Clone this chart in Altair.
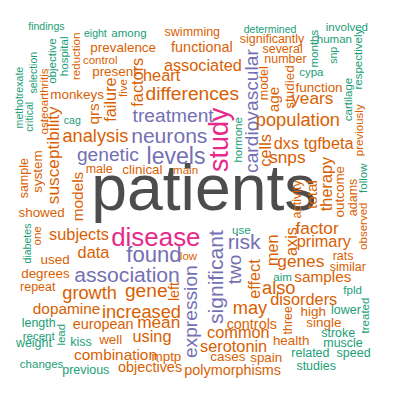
import pandas as pd
import altair as alt

# word cloud: word, centre position in pixels, font size, rotated?, colour group
words = [
    "patients", "study", "disease", "levels", "found", "neurons", "association", "risk",
    "significant", "treatment", "differences", "genetic", "cardiovascular", "expression", "two",
    "gene", "population", "analysis", "increased", "growth", "also", "may", "snps", "years",
    "susceptibility", "mean", "factor", "genes", "heart", "associated", "subjects", "data",
    "failure", "factors", "dxs", "tgfbeta", "cells", "effect", "men", "axis", "primary",
    "disorders", "common", "serotonin", "using", "therapy", "models", "qrs", "age", "total",
    "combination", "dopamine", "samples", "functional", "european", "controls", "objectives",
    "polymorphisms", "left", "studied", "prevalence", "present", "monkeys", "showed", "system",
    "function", "clinical", "used", "degrees", "well", "mptp", "health", "high", "single",
    "cases", "spain", "outcome", "sample", "swimming", "significantly", "several", "number",
    "model", "male", "control", "repeat", "rats", "similar", "three", "activity", "adams",
    "reduction", "osteoarthritis", "previously", "observed", "main", "low", "five", "one",
    "findings", "eight", "among", "hospital", "objective", "selection", "methotrexate",
    "critical", "cag", "determined", "involved", "human", "months", "respectively", "snp",
    "cypa", "cartilage", "hormone", "follow", "diabetes", "length", "lead", "recent", "weight",
    "kiss", "changes", "previous", "use", "aim", "fpld", "lower", "treated", "stroke",
    "muscle", "related", "speed", "studies",
]
xs = [
    212, 229, 162, 183, 160, 176, 132, 254,
    225, 180, 200, 112, 262, 199, 245,
    152, 310, 99, 147, 93, 290, 260, 299, 325,
    56, 165, 330, 313, 168, 211, 82, 97,
    116, 144, 298, 342, 277, 265, 284, 304, 337,
    316, 248, 243, 158, 341, 81, 98, 285, 325,
    120, 69, 336, 210, 107, 262, 156,
    242, 181, 302, 128, 119, 80, 43, 39,
    332, 148, 57, 47, 115, 173, 303, 326, 337,
    237, 277, 354, 25, 200, 283, 294, 297,
    275, 103, 104, 39, 357, 362, 300, 309, 368,
    79, 46, 374, 378, 193, 196, 128, 38,
    48, 99, 134, 67, 54, 35, 21,
    31, 75, 281, 361, 348, 327, 373, 348,
    324, 362, 248, 378, 29, 40, 63, 40, 35,
    84, 43, 89, 251, 294, 367, 360, 380, 352,
    357, 323, 368, 329,
]
ys = [
    190, 137, 240, 155, 257, 133, 278, 244,
    280, 112, 90, 153, 107, 316, 272,
    295, 117, 133, 317, 297, 292, 312, 156, 95,
    153, 328, 230, 264, 71, 60, 236, 255,
    95, 77, 142, 142, 148, 282, 252, 243, 244,
    304, 338, 353, 343, 183, 196, 110, 95, 194,
    361, 313, 280, 41, 329, 329, 374,
    377, 295, 82, 42, 66, 90, 213, 170,
    83, 169, 262, 277, 346, 363, 347, 316, 328,
    363, 364, 191, 177, 25, 32, 43, 53,
    78, 168, 54, 290, 258, 270, 325, 199, 197,
    50, 97, 127, 227, 169, 258, 83, 237,
    20, 27, 26, 50, 55, 67, 93,
    113, 117, 23, 20, 32, 42, 53, 49,
    66, 95, 137, 177, 245, 328, 340, 342, 349,
    348, 371, 377, 231, 280, 294, 314, 320, 338,
    349, 359, 359, 373,
]
sizes = [
    67, 28, 27, 24, 23, 22, 22, 22,
    22, 20, 20, 20, 20, 20, 20,
    20, 19, 19, 19, 19, 19, 19, 18, 18,
    18, 18, 18, 18, 17, 17, 17, 17,
    17, 17, 17, 17, 17, 17, 17, 17, 17,
    17, 17, 17, 17, 17, 16, 16, 16, 16,
    16, 16, 16, 15, 15, 15, 15,
    15, 15, 14, 14, 14, 14, 14, 14,
    14, 14, 14, 14, 14, 14, 14, 14, 14,
    14, 14, 14, 13, 13, 13, 13, 13,
    13, 13, 12, 13, 13, 13, 13, 13, 13,
    12, 12, 12, 12, 12, 12, 12, 12,
    11, 11, 12, 12, 12, 11, 11,
    11, 11, 11, 12, 12, 12, 12, 11,
    12, 12, 12, 12, 11, 13, 12, 12, 13,
    13, 12, 13, 12, 12, 12, 13, 12, 13,
    13, 13, 13, 13,
]
rotated = {
    "study", "significant", "cardiovascular", "expression", "two", "susceptibility", "failure",
    "factors", "cells", "effect", "men", "axis", "therapy", "models", "qrs", "age", "total",
    "left", "studied", "system", "outcome", "sample", "model", "three", "activity", "adams",
    "reduction", "osteoarthritis", "previously", "observed", "five", "one", "hospital",
    "objective", "selection", "methotrexate", "critical", "months", "respectively", "snp",
    "cartilage", "hormone", "follow", "diabetes", "lead", "treated",
}
magenta = {"study", "disease"}
purple = {"levels", "found", "neurons", "association", "risk", "significant", "treatment",
          "genetic", "cardiovascular", "expression", "two"}
green = {
    "findings", "eight", "among", "hospital", "objective", "selection", "methotrexate",
    "critical", "cag", "determined", "involved", "human", "months", "respectively", "snp",
    "cypa", "cartilage", "hormone", "follow", "diabetes", "length", "lead", "recent", "weight",
    "kiss", "changes", "previous", "use", "aim", "fpld", "lower", "treated", "stroke",
    "muscle", "related", "speed", "studies",
}


def group(w):
    if w == "patients":
        return "a"
    if w in magenta:
        return "b"
    if w in purple:
        return "c"
    if w in green:
        return "e"
    return "d"


df = pd.DataFrame({"word": words, "x": xs, "y": ys, "size": sizes})
df["rot"] = [w in rotated for w in words]
df["group"] = [group(w) for w in words]

enc = dict(
    x=alt.X("x:Q", scale=alt.Scale(domain=[8, 408]), axis=None),
    y=alt.Y("y:Q", scale=alt.Scale(domain=[408, 8]), axis=None),
    text="word:N",
    size=alt.Size("size:Q", scale=alt.Scale(domain=[0, 100], range=[0, 100], zero=True), legend=None),
    color=alt.Color(
        "group:N",
        scale=alt.Scale(domain=["a", "b", "c", "d", "e"],
                        range=["#4d4d4d", "#E7298A", "#7570B3", "#D95F02", "#1B9E77"]),
        legend=None,
    ),
)

base = alt.Chart(df)
flat = base.mark_text(font="Liberation Sans", align="center", baseline="middle").encode(**enc).transform_filter("!datum.rot")
vert = base.mark_text(font="Liberation Sans", align="center", baseline="middle", angle=270).encode(**enc).transform_filter("datum.rot")

chart = (
    alt.layer(flat, vert)
    .properties(width=400, height=400, padding=0, autosize="none")
    .configure_view(stroke=None)
)

chart.save("out.html", embed_options={"renderer": "svg", "actions": False})
